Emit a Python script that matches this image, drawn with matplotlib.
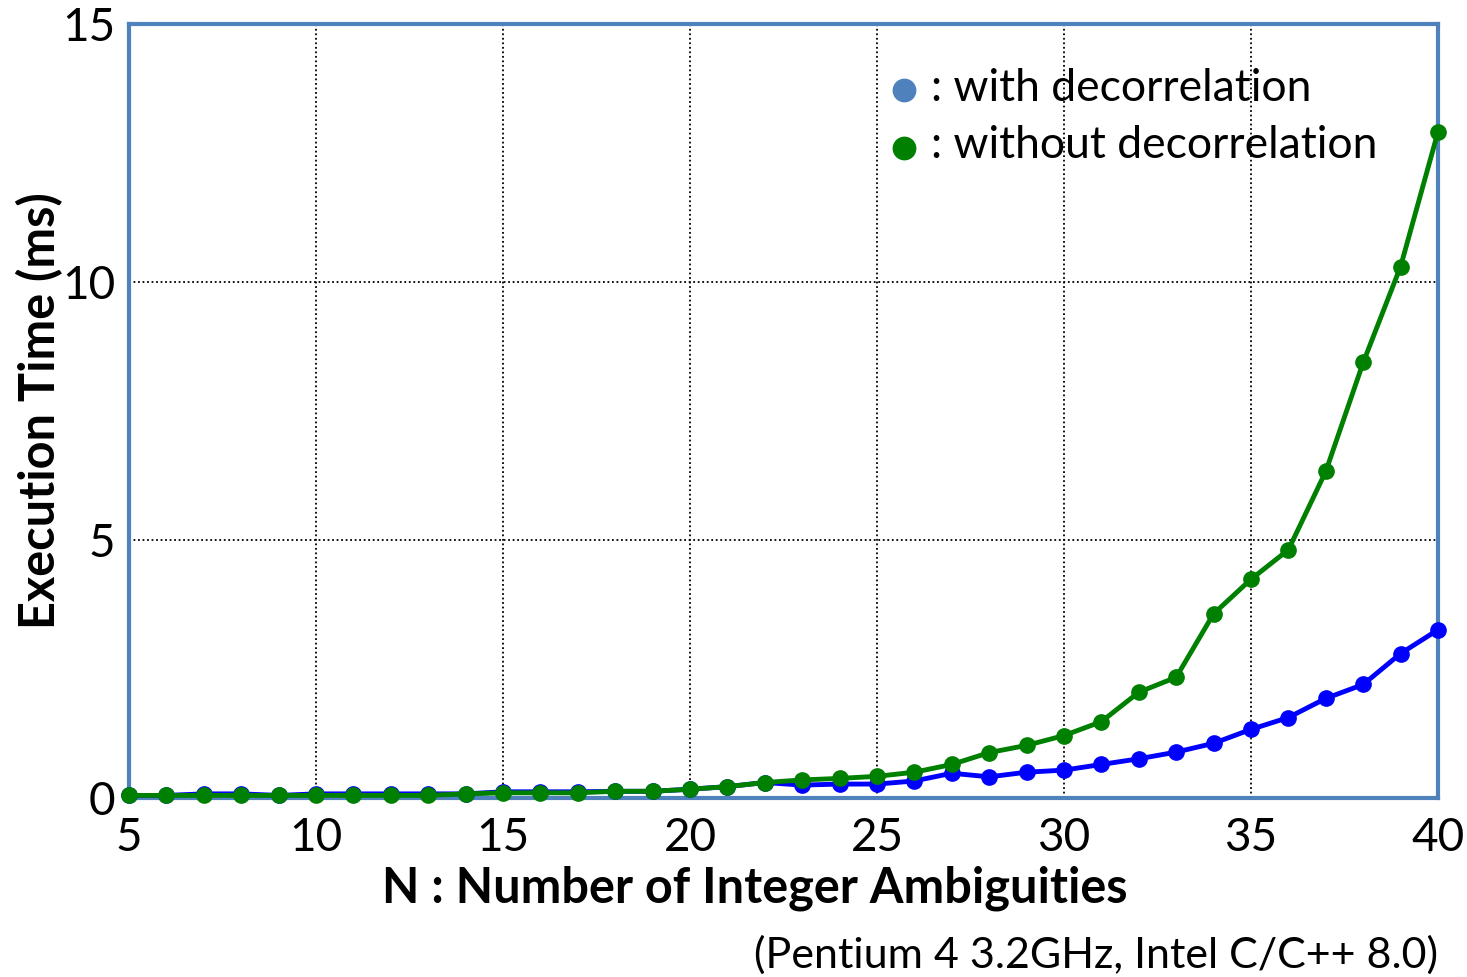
import numpy as np
import matplotlib.pyplot as plt

plt.rcParams['font.family'] = ['Lato', 'DejaVu Sans']

# N : number of integer ambiguities
n_amb = list(range(5, 41))

# execution time (ms)
t_with = [0.05, 0.05, 0.08, 0.08, 0.05, 0.08, 0.08, 0.08, 0.08, 0.08,
          0.12, 0.12, 0.12, 0.13, 0.13, 0.17, 0.22, 0.30, 0.25, 0.27,
          0.27, 0.33, 0.48, 0.41, 0.50, 0.54, 0.65, 0.76, 0.89, 1.06,
          1.33, 1.56, 1.93, 2.20, 2.80, 3.26]
t_without = [0.05, 0.05, 0.05, 0.05, 0.05, 0.05, 0.05, 0.05, 0.05, 0.08,
             0.10, 0.10, 0.10, 0.13, 0.13, 0.17, 0.22, 0.30, 0.35, 0.38,
             0.42, 0.50, 0.65, 0.88, 1.02, 1.21, 1.48, 2.05, 2.34, 3.57,
             4.24, 4.81, 6.33, 8.44, 10.30, 12.91]

fig = plt.figure(figsize=(14.67, 9.77), dpi=100)
ax = fig.add_axes([129 / 1467, 1 - 798 / 977, (1438 - 129) / 1467, (798 - 24) / 977])

ax.plot(n_amb, t_with, color='#0000FF', lw=3.5, marker='o', ms=11, clip_on=False, zorder=3)
ax.plot(n_amb, t_without, color='#008000', lw=3.5, marker='o', ms=11, clip_on=False, zorder=4)

ax.set_xlim(5, 40)
ax.set_ylim(0, 15)
ax.set_xticks([5, 10, 15, 20, 25, 30, 35, 40])
ax.set_yticks([0, 5, 10, 15])
ax.grid(True, color='black', linestyle=(0, (1, 1.5)), lw=1.3)
ax.tick_params(length=0, labelsize=33)
ax.tick_params(axis='x', pad=14)
ax.tick_params(axis='y', pad=10)
for s in ax.spines.values():
    s.set_color('#4F81BD')
    s.set_linewidth(3)

ax.set_xlabel('N : Number of Integer Ambiguities', fontsize=35, fontweight='bold')
ax.set_ylabel('Execution Time (ms)', fontsize=35, fontweight='bold')
ax.xaxis.set_label_coords(0.478, -0.117)
ax.yaxis.set_label_coords(-0.068, 0.5)
ax.xaxis.label.set_va('center')
ax.yaxis.label.set_va('center')

# legend drawn by hand
ax.scatter([0.592], [0.915], s=260, color='#4F81BD', transform=ax.transAxes, clip_on=False, zorder=5)
ax.scatter([0.592], [0.840], s=260, color='#008000', transform=ax.transAxes, clip_on=False, zorder=5)
ax.text(0.613, 0.917, ': with decorrelation', transform=ax.transAxes, fontsize=32, va='center')
ax.text(0.613, 0.843, ': without decorrelation', transform=ax.transAxes, fontsize=32, va='center')

fig.text(1438 / 1467, 1 - 955 / 977, '(Pentium 4 3.2GHz, Intel C/C++ 8.0)', fontsize=31,
         ha='right', va='center')

fig.savefig('out.png', dpi=100)
